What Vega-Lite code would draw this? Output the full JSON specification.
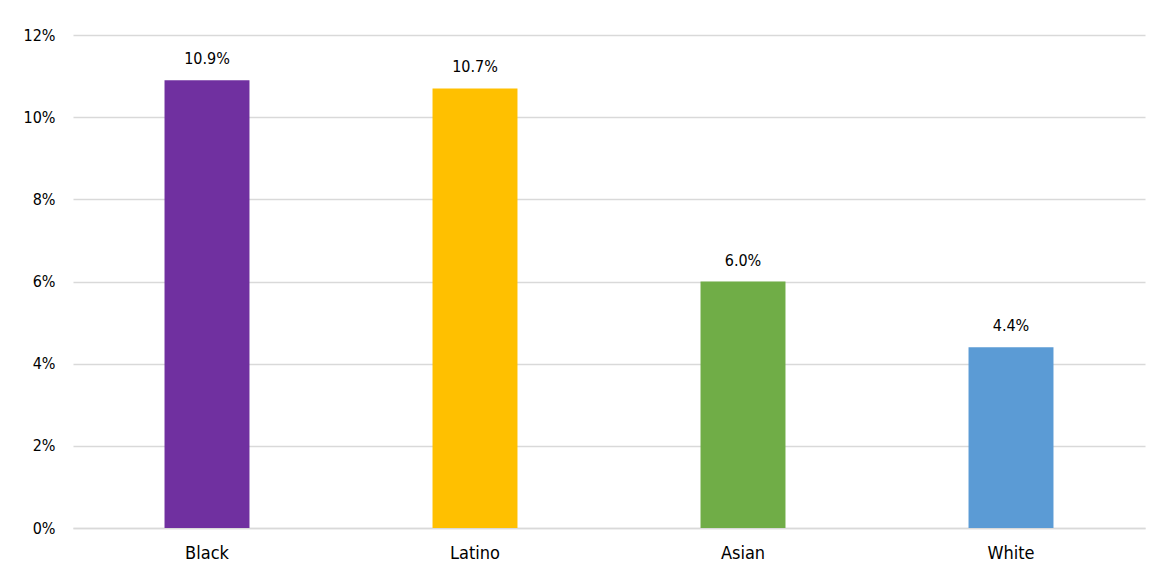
{
  "$schema": "https://vega.github.io/schema/vega-lite/v6.json",
  "width": 1072,
  "height": 493,
  "autosize": "none",
  "padding": {"left": 73, "top": 35, "right": 12, "bottom": 47},
  "background": "white",
  "title": {
    "text": "Figure 1: Unemployment Rate by Race and Ethnic Group",
    "font": "Liberation Serif",
    "fontSize": 29,
    "fontWeight": "bold",
    "color": "#000000",
    "anchor": "middle",
    "baseline": "alphabetic",
    "dx": -28,
    "dy": -12,
    "offset": 0
  },
  "data": {
    "values": [
      {"group": "Black", "rate": 0.109},
      {"group": "Latino", "rate": 0.107},
      {"group": "Asian", "rate": 0.060},
      {"group": "White", "rate": 0.044}
    ]
  },
  "encoding": {
    "x": {
      "field": "group",
      "type": "nominal",
      "sort": null,
      "scale": {"paddingInner": 0.683, "paddingOuter": 0.3415},
      "axis": {
        "title": null,
        "labelAngle": 0,
        "labelFont": "DejaVu Sans Condensed, Liberation Sans",
        "labelFontSize": 18,
        "labelColor": "#000000",
        "labelPadding": 16,
        "ticks": false,
        "domainColor": "#d9d9d9",
        "domainWidth": 1.5
      }
    },
    "y": {
      "field": "rate",
      "type": "quantitative",
      "scale": {"domain": [0, 0.12], "nice": false},
      "axis": {
        "title": null,
        "values": [0, 0.02, 0.04, 0.06, 0.08, 0.1, 0.12],
        "format": ".0%",
        "labelFont": "DejaVu Sans Condensed, Liberation Sans",
        "labelFontSize": 16,
        "labelColor": "#000000",
        "labelPadding": 18,
        "ticks": false,
        "domain": false,
        "gridColor": "#d9d9d9",
        "gridWidth": 1.5
      }
    }
  },
  "layer": [
    {
      "mark": {"type": "bar"},
      "encoding": {
        "color": {
          "field": "group",
          "type": "nominal",
          "scale": {
            "domain": ["Black", "Latino", "Asian", "White"],
            "range": ["#7030A0", "#FFC000", "#70AD47", "#5B9BD5"]
          },
          "legend": null
        }
      }
    },
    {
      "mark": {
        "type": "text",
        "baseline": "bottom",
        "dy": -13,
        "font": "DejaVu Sans Condensed, Liberation Sans",
        "fontSize": 16,
        "color": "#000000"
      },
      "encoding": {
        "text": {"field": "rate", "type": "quantitative", "format": ".1%"}
      }
    }
  ],
  "config": {"view": {"stroke": null}}
}
